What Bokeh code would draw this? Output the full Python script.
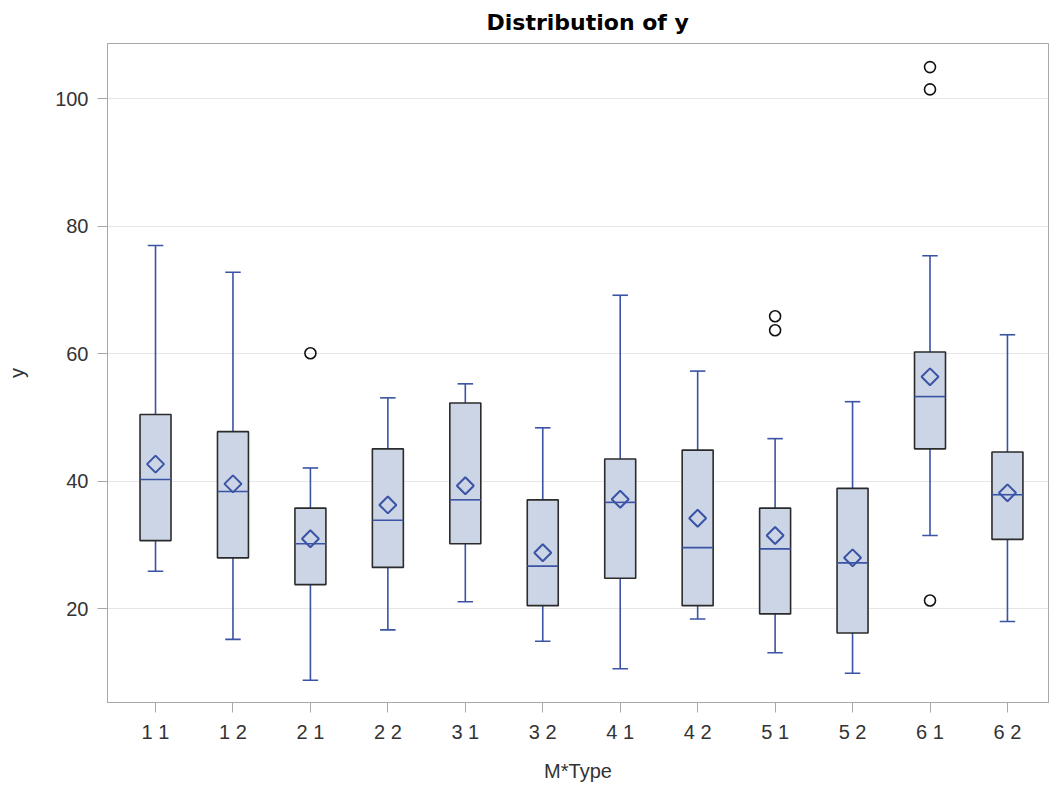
import math
from bokeh.plotting import figure
from bokeh.models import Range1d, FixedTicker
from bokeh.embed import file_html
from bokeh.resources import INLINE

# ---- data ----
groups = ["1 1", "1 2", "2 1", "2 2", "3 1", "3 2", "4 1", "4 2", "5 1", "5 2", "6 1", "6 2"]
whisker_low = [25.9, 15.2, 8.8, 16.7, 21.1, 14.9, 10.6, 18.4, 13.1, 9.9, 31.5, 18.0]
q1 = [30.7, 28.0, 23.8, 26.5, 30.2, 20.5, 24.8, 20.5, 19.2, 16.2, 45.1, 30.9]
median = [40.3, 38.4, 30.2, 33.9, 37.1, 26.7, 36.7, 29.6, 29.4, 27.2, 53.3, 37.9]
q3 = [50.5, 47.8, 35.8, 45.1, 52.3, 37.1, 43.5, 44.9, 35.8, 38.9, 60.3, 44.6]
whisker_high = [77.0, 72.8, 42.1, 53.1, 55.3, 48.4, 69.2, 57.3, 46.7, 52.5, 75.4, 63.0]
mean = [42.7, 39.6, 31.0, 36.3, 39.3, 28.8, 37.2, 34.2, 31.5, 28.0, 56.4, 38.2]
outlier_group = ["2 1", "5 1", "5 1", "6 1", "6 1", "6 1"]
outlier_value = [60.1, 65.9, 63.7, 105.0, 101.5, 21.3]
y_ticks = [20, 40, 60, 80, 100]

FONT = "'Liberation Sans', Arial, sans-serif"
TITLE_FONT = "'DejaVu Sans', Verdana, sans-serif"
BLUE = "#3A53A4"
FILL = "#CBD5E6"
EDGE = "#2B2B2B"

xs = list(range(len(groups)))
pos = {g: i for i, g in enumerate(groups)}
ox = [pos[g] for g in outlier_group]

box_w = 0.40
cap_w = 0.20

p = figure(width=1049, height=785, output_backend="svg", toolbar_location=None,
           x_range=Range1d(-0.62, 11.53), y_range=Range1d(5.3, 108.7),
           min_border_left=107, min_border_right=1, min_border_top=43, min_border_bottom=83,
           title="Distribution of y")

p.title.align = "left"
p.title.offset = 379
p.title.standoff = 16
p.title.vertical_align = "middle"
p.title.text_font = TITLE_FONT
p.title.text_font_size = "22px"
p.title.text_font_style = "bold"
p.title.text_color = "#000000"

# whiskers
p.segment(x0=xs, y0=q3, x1=xs, y1=whisker_high, line_color=BLUE, line_width=1.6)
p.segment(x0=xs, y0=whisker_low, x1=xs, y1=q1, line_color=BLUE, line_width=1.6)
# caps
p.segment(x0=[x - cap_w / 2 for x in xs], y0=whisker_high, x1=[x + cap_w / 2 for x in xs], y1=whisker_high,
          line_color=BLUE, line_width=1.6)
p.segment(x0=[x - cap_w / 2 for x in xs], y0=whisker_low, x1=[x + cap_w / 2 for x in xs], y1=whisker_low,
          line_color=BLUE, line_width=1.6)
# boxes
p.vbar(x=xs, width=box_w, bottom=q1, top=q3, fill_color=FILL, line_color=EDGE, line_width=1.6)
# medians
p.segment(x0=[x - box_w / 2 for x in xs], y0=median, x1=[x + box_w / 2 for x in xs], y1=median,
          line_color=BLUE, line_width=1.6)
# means
p.scatter(x=xs, y=mean, marker="square", size=12, angle=math.pi / 4, fill_color=None,
          line_color=BLUE, line_width=2)
# outliers
p.scatter(x=ox, y=outlier_value, marker="circle", size=11, fill_color=None,
          line_color="#111111", line_width=1.6)

# axes
p.xaxis.ticker = FixedTicker(ticks=xs)
p.xaxis.major_label_overrides = {i: g for i, g in enumerate(groups)}
p.yaxis.ticker = FixedTicker(ticks=y_ticks)
p.xaxis.axis_label = "M*Type"
p.yaxis.axis_label = "y"

for ax in (p.xaxis[0], p.yaxis[0]):
    ax.axis_line_color = "#A5A9AD"
    ax.major_tick_line_color = "#A5A9AD"
    ax.major_tick_out = 10
    ax.major_tick_in = 0
    ax.minor_tick_line_color = None
    ax.major_label_text_font = FONT
    ax.major_label_text_font_size = "20px"
    ax.major_label_text_color = "#333333"
    ax.axis_label_text_font = FONT
    ax.axis_label_text_font_size = "20px"
    ax.axis_label_text_font_style = "normal"
    ax.axis_label_text_color = "#333333"

p.yaxis.major_label_standoff = 9
p.xaxis.major_label_standoff = 8
p.xaxis.axis_label_standoff = 14
p.yaxis.axis_label_standoff = 24

p.xgrid.grid_line_color = None
p.ygrid.grid_line_color = "#E6E6E6"
p.ygrid.grid_line_width = 1

p.outline_line_color = "#A5A9AD"
p.outline_line_width = 1
p.background_fill_color = "white"
p.border_fill_color = "white"

open("out.html", "w").write(file_html(p, INLINE))
